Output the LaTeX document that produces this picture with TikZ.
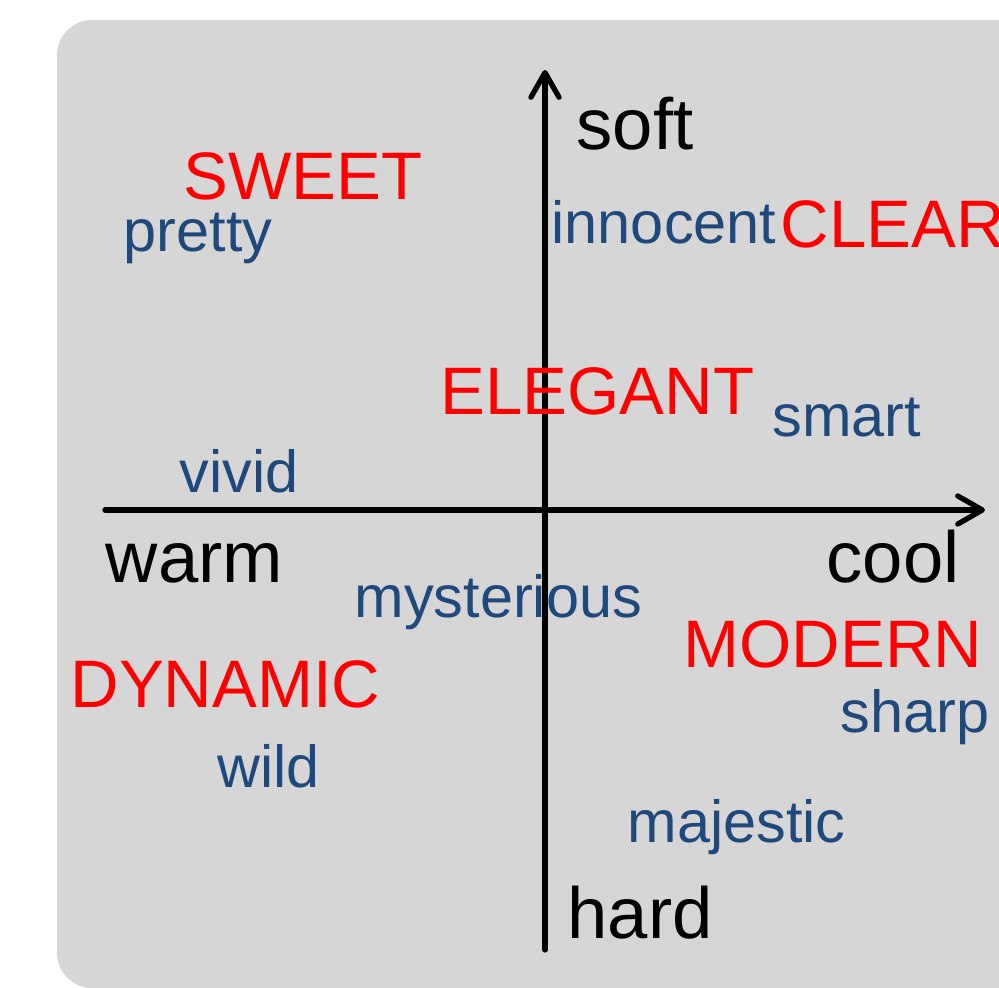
\documentclass[tikz,border=0pt]{standalone}
\usepackage{fontspec}
\setmainfont{Liberation Sans}
\usepackage{tikz}
\usetikzlibrary{arrows.meta}

\definecolor{panelgray}{RGB}{214,214,214}
\definecolor{wordblue}{RGB}{31,73,125}
\definecolor{wordred}{RGB}{255,0,0}

\tikzset{
    bigword/.style={anchor=base west,inner sep=0pt,text=wordred,font=\fontsize{19.1}{19.1}\selectfont},
    smallword/.style={anchor=base west,inner sep=0pt,text=wordblue,font=\fontsize{16.9}{16.9}\selectfont},
    axislabel/.style={anchor=base west,inner sep=0pt,text=black,font=\fontsize{20.6}{20.6}\selectfont},
    axis/.style={line width=1.5pt,-{Straight Barb[length=7pt,width=8pt,round]},line cap=round}
}

\begin{document}
\begin{tikzpicture}[x=0.01cm,y=-0.01cm]
    \useasboundingbox (0,0) rectangle (999,988);
    \clip (0,0) rectangle (999,988);
    \fill[panelgray,rounded corners=10pt] (57,20) rectangle (1060,988);

    % axes
    \coordinate (xl) at (105,510);
    \coordinate (xr) at (985,510);
    \coordinate (yb) at (545,950);
    \coordinate (yt) at (545,70);
    \draw[axis] (xl) -- (xr);
    \draw[axis] (yb) -- (yt);

    % axis labels
    \node[axislabel] (soft) at (576,150) {soft};
    \node[axislabel] (hard) at (567,939) {hard};
    \node[axislabel] (warm) at (105,583) {warm};
    \node[axislabel] (cool) at (826,583) {cool};

    % image words
    \node[bigword] (sweet) at (183,200) {SWEET};
    \node[bigword] (clear) at (780,248) {CLEAR};
    \node[bigword] (elegant) at (440,415) {ELEGANT};
    \node[bigword] (modern) at (683,668) {MODERN};
    \node[bigword] (dynamic) at (70,708) {DYNAMIC};

    \node[smallword] (pretty) at (123,252) {pretty};
    \node[smallword] (innocent) at (551,244) {innocent};
    \node[smallword] (smart) at (772,437) {smart};
    \node[smallword] (vivid) at (179,493) {vivid};
    \node[smallword] (mysterious) at (354,618) {mysterious};
    \node[smallword] (sharp) at (840,733) {sharp};
    \node[smallword] (wild) at (217,788) {wild};
    \node[smallword] (majestic) at (627,843) {majestic};
\end{tikzpicture}
\end{document}
